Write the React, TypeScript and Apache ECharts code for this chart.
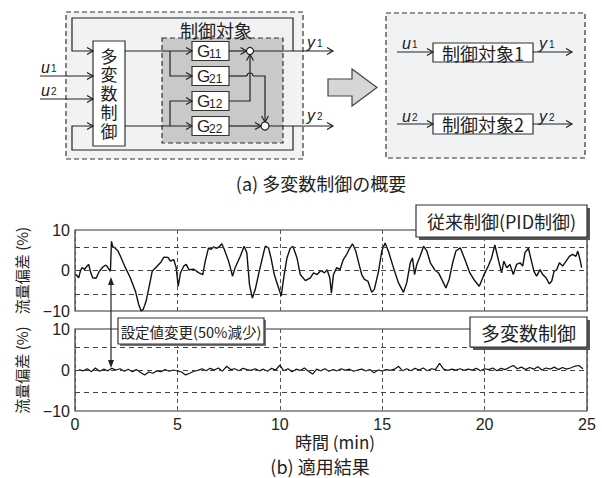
import React, { useEffect, useRef } from "react";
import * as echarts from "echarts";

// ---- data ----
const xTickInterval = 5;
const xRange = [0, 25];
const yRange = [-10, 10];
const yTickInterval = 10;

// 従来制御 (PID) flow deviation (%) vs time (min)
const pidSeries: [number, number][] = [
  [0.05, -1.0], [0.18, -1.8], [0.26, -0.2], [0.34, 0.7], [0.47, 0.3], [0.59, 1.1], [0.67, 1.5], [0.75, -0.2],
  [0.86, -1.8], [1.03, -1.9], [1.19, -0.2], [1.35, 0.8], [1.48, 1.3], [1.56, 1.1], [1.73, -0.2], [1.78, 7.2],
  [1.84, 6.0], [1.94, 5.6], [2.1, 4.8], [2.22, 3.5], [2.46, 0.7], [2.7, -1.8], [2.95, -5.1], [3.11, -8.4],
  [3.23, -10.0], [3.33, -9.6], [3.47, -7.6], [3.64, -3.5], [3.77, -0.2], [3.96, 0.8], [4.17, 1.9], [4.34, 3.3],
  [4.55, 3.2], [4.66, 2.3], [4.82, 2.7], [4.94, 0.7], [5.04, -3.9], [5.15, -0.6], [5.31, 1.1], [5.43, 1.5],
  [5.56, 0.2], [5.8, 0.3], [6.05, -0.6], [6.24, -1.0],
  [6.36, 2.3], [6.52, 5.6], [6.63, 5.2], [6.76, 5.8], [6.93, 5.5], [7.06, 6.0], [7.17, 6.6], [7.29, 5.2],
  [7.5, 2.3], [7.69, -1.4], [7.82, 0.7], [8.07, 3.5], [8.26, 6.0], [8.39, 4.4], [8.52, -3.5], [8.66, -6.8],
  [8.8, -4.7], [8.96, -1.0], [9.13, 2.7], [9.29, 6.0], [9.45, 5.6], [9.57, 3.1], [9.73, -1.0], [9.89, -3.5],
  [10.07, -6.3], [10.19, -1.8], [10.35, 3.1], [10.51, 5.5], [10.64, 6.0], [10.84, 3.1], [11.0, -1.0], [11.25, -2.5],
  [11.49, -1.8], [11.65, -0.6], [11.82, -1.0], [12.01, 0.0], [12.18, -0.6], [12.31, 0.2], [12.44, -1.8], [12.52, -5.6],
  [12.62, -1.0], [12.78, 0.7], [12.94, 0.2], [13.1, 2.7], [13.27, 4.0], [13.38, 5.2], [13.55, 6.6], [13.71, 4.8],
  [13.87, 1.5], [14.0, -1.0], [14.13, -2.2], [14.3, -2.6], [14.49, -5.4], [14.62, -4.6], [14.82, -0.2], [14.98, 4.8],
  [15.14, 6.8], [15.3, 4.8], [15.55, 0.7], [15.79, -3.0], [16.04, -5.4], [16.2, -3.0], [16.37, 1.9], [16.48, 3.1],
  [16.58, -1.0], [16.69, 1.5], [16.85, 3.5], [17.02, 6.0], [17.18, 4.8], [17.35, 1.9], [17.56, 0.2], [17.75, -0.6],
  [17.91, -2.2], [18.11, -4.3], [18.27, -2.2], [18.44, 1.9], [18.6, 4.8], [18.81, 5.6],
  [19.04, 2.7], [19.28, -0.6], [19.53, -2.6], [19.74, -3.9], [19.94, -1.4], [20.18, 1.1], [20.34, 3.1], [20.5, 6.3],
  [20.67, 2.7], [20.83, -0.6], [20.94, 2.3], [21.08, 0.7], [21.24, 1.5], [21.4, -1.0], [21.56, 1.5], [21.73, 1.9],
  [21.86, 1.1], [21.97, 4.4], [22.14, 5.5], [22.25, 3.1], [22.41, -0.2], [22.54, -1.4], [22.71, 0.2], [22.84, -1.0],
  [23.0, -1.8], [23.16, -3.3], [23.28, -2.6], [23.39, -0.2], [23.52, 0.2], [23.65, 1.9], [23.81, 1.1], [23.98, 2.3],
  [24.14, 3.5], [24.3, 4.0], [24.46, 3.5], [24.55, 4.8], [24.66, 2.7], [24.74, 0.7],
];

// 多変数制御 flow deviation (%) vs time (min)
const mvSeries: [number, number][] = [
  [0.2, 0.1], [0.4, -0.2], [0.6, 0.3], [0.8, -0.4], [1.0, 0.5], [1.2, -0.3], [1.4, 0.2], [1.6, -0.2],
  [1.8, 0.4], [2.0, 0.0], [2.2, 0.3], [2.4, -0.3], [2.6, 0.2], [2.8, -0.4], [3.0, 0.1], [3.2, -0.6],
  [3.4, -1.2], [3.6, -0.5], [3.8, -0.8], [4.0, -0.2], [4.2, -0.4], [4.4, 0.1], [4.6, -0.3], [4.8, 0.0],
  [5.0, -0.2], [5.2, -0.5], [5.4, -1.2], [5.6, -0.8], [5.8, -0.3], [6.0, -0.1], [6.2, 0.3], [6.4, -0.2],
  [6.6, 0.4], [6.8, 0.0], [7.0, 0.5], [7.2, -0.3], [7.4, 0.9], [7.6, 0.1], [7.8, 0.3], [8.0, -0.2],
  [8.2, 0.4], [8.4, 0.1], [8.6, -0.1], [8.8, 0.3], [9.0, -0.2], [9.2, 0.2], [9.4, -0.3], [9.6, 0.4],
  [9.8, 0.0], [10.0, 1.2], [10.2, -0.2], [10.4, 0.3], [10.6, -0.4], [10.8, 0.2], [11.0, -0.1], [11.2, 0.5],
  [11.4, -0.3], [11.6, -1.0], [11.8, 0.2], [12.0, -0.2], [12.2, 0.3], [12.4, -0.3], [12.6, 0.1], [12.8, -0.2],
  [13.0, 0.3], [13.2, -0.1], [13.4, 0.2], [13.6, -0.3], [13.8, 0.0], [14.0, 0.2], [14.2, -0.2], [14.4, 0.1],
  [14.6, -0.7], [14.8, 0.0], [15.0, -0.2], [15.2, 0.1], [15.4, -0.1], [15.6, 0.2], [15.8, 0.9], [16.0, -0.2],
  [16.2, 0.3], [16.4, -0.2], [16.6, 0.4], [16.8, 0.0], [17.0, 0.5], [17.2, -0.2], [17.4, 0.3], [17.6, 0.1],
  [17.8, 1.6], [18.0, 0.2], [18.2, -0.1], [18.4, 0.2], [18.6, 0.0], [18.8, 0.3], [19.0, -0.1], [19.2, 0.2],
  [19.4, 0.0], [19.6, 0.4], [19.8, -0.2], [20.0, 0.3], [20.2, 0.1], [20.4, 0.5], [20.6, -0.2], [20.8, 0.4],
  [21.0, 0.1], [21.2, 0.6], [21.4, 1.1], [21.6, 0.3], [21.8, 0.7], [22.0, 0.1], [22.2, 0.6], [22.4, 0.2],
  [22.6, 0.8], [22.8, 0.0], [23.0, 0.5], [23.2, 0.2], [23.4, 0.7], [23.6, 0.1], [23.8, 0.6], [24.0, 0.2],
  [24.2, 0.5], [24.4, 0.9], [24.6, 1.1], [24.8, 0.3],
];

const guideLevelsTop = [5.8, 0, -5.8];
const guideLevelsBottom = [5.5, 0, -5.5];

const yAxisName = "流量偏差 (%)";
const xAxisName = "時間 (min)";
const labelPid = "従来制御(PID制御)";
const labelMv = "多変数制御";
const labelSetpoint = "設定値変更(50%減少)";
const captionA = "(a) 多変数制御の概要";
const captionB = "(b) 適用結果";
const controllerChars = ["多", "変", "数", "制", "御"];
const gLabels = [
  ["G", "11"],
  ["G", "21"],
  ["G", "12"],
  ["G", "22"],
];

// ---- drawing helpers ----
const FONT = "'Noto Sans CJK JP', 'Noto Sans', sans-serif";
const LATIN = "'Liberation Sans', sans-serif";
const INK = "#222";

const ln = (x1: number, y1: number, x2: number, y2: number, z = 5) => ({
  type: "line", z, shape: { x1, y1, x2, y2 }, style: { stroke: INK, lineWidth: 1.2 },
});
const pl = (points: number[][], z = 5) => ({
  type: "polyline", z, shape: { points }, style: { stroke: INK, lineWidth: 1.2, fill: "none" },
});
const headR = (x: number, y: number) => pl([[x - 6, y - 3.5], [x, y], [x - 6, y + 3.5]]);
const headU = (x: number, y: number) => pl([[x - 3.5, y + 6], [x, y], [x + 3.5, y + 6]]);
const headD = (x: number, y: number) => pl([[x - 3.5, y - 6], [x, y], [x + 3.5, y - 6]]);
const rect = (x: number, y: number, w: number, h: number, fill: string, dashed = false, z = 4) => ({
  type: "rect", z, shape: { x, y, width: w, height: h },
  style: { fill, stroke: "#333", lineWidth: 1.2, lineDash: dashed ? [5, 3] : null },
});
const txt = (x: number, y: number, text: string, fontSize: number, extra: any = {}, z = 6) => ({
  type: "text", z, x, y,
  style: { text, fontSize, fontFamily: FONT, fill: INK, align: "center", verticalAlign: "middle", ...extra },
});
const varLabel = (x: number, y: number, letter: string, digit: string) => [
  txt(x, y, letter, 16, { align: "left", fontStyle: "italic", fontFamily: LATIN }),
  txt(x + 10, y + 1.5, digit, 10, { align: "left", fontFamily: LATIN }),
];

function buildGraphic() {
  const g: any[] = [];
  // backgrounds
  g.push(rect(66, 12, 237, 147, "#f0f2f4", true, 1));
  g.push(rect(386, 13, 199, 145, "#f0f2f4", true, 1));
  g.push(rect(162, 38, 121, 105, "#c9c9c9", true, 2));
  // feedback loops
  g.push(pl([[293, 51], [293, 18], [72, 18], [72, 51], [93, 51]]), headR(93, 51));
  g.push(pl([[293, 126], [293, 150], [72, 150], [72, 126], [93, 126]]), headR(93, 126));
  // inputs
  g.push(ln(40, 76, 93, 76), headR(93, 76), ln(40, 99, 93, 99), headR(93, 99));
  g.push(...varLabel(41, 67, "u", "1"), ...varLabel(41, 90, "u", "2"));
  // controller
  g.push(rect(93, 41, 32, 105, "#fff"));
  controllerChars.forEach((ch, i) => g.push(txt(109, 55 + i * 18.8, ch, 17, { lineHeight: 17 })));
  g.push(txt(216, 30, "制御対象", 18));
  // plant internal wiring
  g.push(ln(125, 51, 192, 51), headR(192, 51));
  g.push(pl([[170, 51], [170, 76], [192, 76]]), headR(192, 76));
  g.push(ln(125, 126, 192, 126), headR(192, 126));
  g.push(pl([[170, 126], [170, 101], [192, 101]]), headR(192, 101));
  const cys = [51, 76, 101, 126];
  cys.forEach((cy, i) => {
    g.push(rect(192, cy - 9.5, 37, 19, "#fff"));
    g.push(txt(197, cy, gLabels[i][0], 17, { align: "left", fontFamily: LATIN }));
    g.push(txt(209, cy + 2.5, gLabels[i][1], 12, { align: "left", fontFamily: LATIN }));
  });
  // outputs / summing points
  g.push(ln(229, 51, 246.5, 51), headR(246.5, 51));
  g.push(ln(229, 76, 247, 76));
  g.push({ type: "arc", z: 5, shape: { cx: 250, cy: 76, r: 3, startAngle: Math.PI, endAngle: Math.PI * 2, clockwise: true }, style: { stroke: INK, lineWidth: 1.2, fill: "none" } });
  g.push(pl([[253, 76], [265, 76], [265, 122]]), headD(265, 122));
  g.push(pl([[229, 101], [250, 101], [250, 54.5]]), headU(250, 54.5));
  g.push(ln(229, 126, 261, 126), headR(261, 126));
  g.push({ type: "circle", z: 6, shape: { cx: 250, cy: 51, r: 3.5 }, style: { fill: "#fff", stroke: INK, lineWidth: 1.2 } });
  g.push({ type: "circle", z: 6, shape: { cx: 265, cy: 126, r: 4 }, style: { fill: "#fff", stroke: INK, lineWidth: 1.2 } });
  g.push(ln(253.5, 51, 333, 51), headR(333, 51));
  g.push(ln(269, 126, 333, 126), headR(333, 126));
  g.push(...varLabel(307, 42, "y", "1"), ...varLabel(307, 115, "y", "2"));
  // big arrow
  g.push({
    type: "polygon", z: 4,
    shape: { points: [[328, 79], [352, 79], [352, 69], [377, 87.5], [352, 106], [352, 96], [328, 96]] },
    style: { fill: "#d6d6d6", stroke: "#444", lineWidth: 1.2 },
  });
  // decoupled plants
  g.push(ln(397, 52, 433, 52), headR(433, 52), ln(533, 52, 572, 52), headR(572, 52));
  g.push(ln(397, 124, 433, 124), headR(433, 124), ln(533, 124, 572, 124), headR(572, 124));
  g.push(rect(433, 43, 100, 19, "#fff"), txt(483, 52.5, "制御対象1", 18));
  g.push(rect(433, 114, 100, 20, "#fff"), txt(483, 124, "制御対象2", 18));
  g.push(...varLabel(402, 43, "u", "1"), ...varLabel(539, 43, "y", "1"));
  g.push(...varLabel(402, 116, "u", "2"), ...varLabel(539, 116, "y", "2"));
  // captions
  g.push(txt(321, 183, captionA, 18));
  g.push(txt(320, 466, captionB, 18));
  // chart annotation boxes
  g.push({ type: "rect", z: 10, shape: { x: 419, y: 208, width: 171, height: 32 }, style: { fill: "#555" } });
  g.push(rect(416, 205, 171, 32, "#fff", false, 11), txt(501.5, 221, labelPid, 18, {}, 12));
  g.push({ type: "rect", z: 10, shape: { x: 473, y: 320, width: 117, height: 30 }, style: { fill: "#555" } });
  g.push(rect(470, 317, 117, 30, "#fff", false, 11), txt(528.5, 332, labelMv, 19, {}, 12));
  g.push({ type: "rect", z: 10, shape: { x: 120, y: 320, width: 146, height: 26 }, style: { fill: "#777" } });
  g.push(rect(118, 318, 146, 26, "#fff", false, 11), txt(191, 331, labelSetpoint, 14.5, {}, 12));
  // setpoint change arrow
  g.push(ln(111, 282, 111, 363, 12));
  g.push({ type: "polygon", z: 12, shape: { points: [[111, 277], [108, 285], [114, 285]] }, style: { fill: INK } });
  g.push({ type: "polygon", z: 12, shape: { points: [[111, 368], [108, 360], [114, 360]] }, style: { fill: INK } });
  return g;
}

const yFmt = (v: number) => (v < 0 ? "−" + Math.abs(v) : String(v));

function axisPair(idx: number, showX: boolean) {
  const x: any = {
    gridIndex: idx, type: "value", min: xRange[0], max: xRange[1], interval: xTickInterval,
    axisLine: { show: false }, axisTick: { show: false },
    axisLabel: { show: showX, fontSize: 16, color: INK, margin: 5, fontFamily: LATIN },
    splitLine: { show: true, lineStyle: { type: [4, 3], color: "#555", width: 1 } },
  };
  if (showX) {
    Object.assign(x, {
      name: xAxisName, nameLocation: "middle", nameGap: 20,
      nameTextStyle: { fontSize: 17, color: INK, fontFamily: FONT, verticalAlign: "top", padding: [0, 0, 0, 8] },
    });
  }
  const y: any = {
    gridIndex: idx, type: "value", min: yRange[0], max: yRange[1], interval: yTickInterval,
    axisLine: { show: false }, axisTick: { show: false }, splitLine: { show: false },
    axisLabel: { fontSize: 16, color: INK, margin: 5, formatter: yFmt, fontFamily: LATIN },
    name: yAxisName, nameLocation: "middle", nameRotate: 90, nameGap: 46,
    nameTextStyle: { fontSize: 15, color: INK, fontFamily: FONT },
  };
  return { x, y };
}

function lineSeries(idx: number, data: [number, number][], guides: number[], width: number) {
  return {
    type: "line", xAxisIndex: idx, yAxisIndex: idx, data, symbol: "none", showSymbol: false,
    lineStyle: { color: "#111", width }, z: 3,
    markLine: {
      silent: true, symbol: ["none", "none"], label: { show: false }, animation: false,
      lineStyle: { type: [5, 4], color: "#444", width: 1 },
      data: guides.map((v) => ({ yAxis: v })),
    },
  };
}

export default function App() {
  const ref = useRef<HTMLDivElement>(null);
  useEffect(() => {
    if (!ref.current) return;
    const chart = echarts.init(ref.current, null, { renderer: "svg" });
    const a0 = axisPair(0, false);
    const a1 = axisPair(1, true);
    chart.setOption({
      animation: false,
      backgroundColor: "#fff",
      textStyle: { fontFamily: FONT },
      grid: [
        { left: 75, top: 230, width: 512, height: 81, show: true, borderColor: "#333", borderWidth: 1.2, backgroundColor: "transparent" },
        { left: 75, top: 329, width: 512, height: 82, show: true, borderColor: "#333", borderWidth: 1.2, backgroundColor: "transparent" },
      ],
      xAxis: [a0.x, a1.x],
      yAxis: [a0.y, a1.y],
      series: [
        lineSeries(0, pidSeries, guideLevelsTop, 1.4),
        lineSeries(1, mvSeries, guideLevelsBottom, 1.2),
      ],
      graphic: buildGraphic(),
    });
    return () => chart.dispose();
  }, []);
  return (
    <div
      ref={ref}
      style={{ position: "fixed", left: 0, top: 0, width: 602, height: 478, background: "#fff" }}
    />
  );
}
